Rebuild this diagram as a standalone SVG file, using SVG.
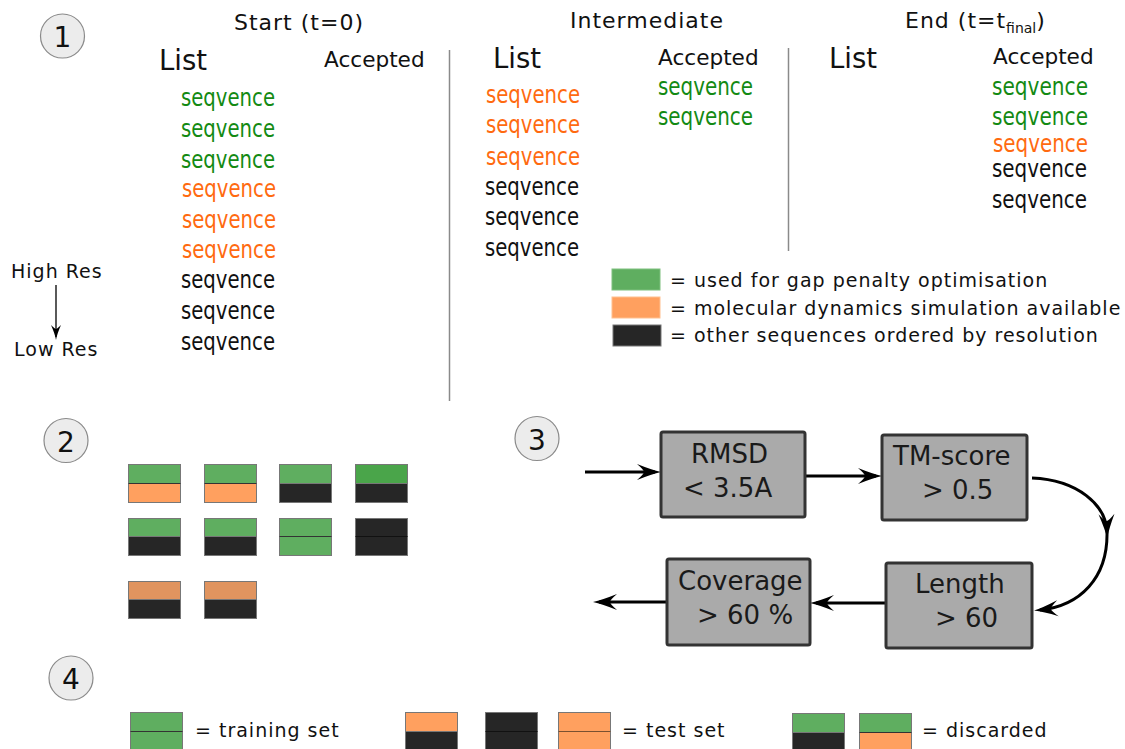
<svg xmlns="http://www.w3.org/2000/svg" width="1125" height="749" viewBox="0 0 1125 749">
<defs>
<style>
text{font-family:"DejaVu Sans","Liberation Sans",sans-serif;fill:#111}
.hdr{font-size:22px;letter-spacing:1px}
.lst{font-size:27.5px}
.acc{font-size:21.6px}
.seq{font-size:25px}
.g{fill:#138a13}.o{fill:#ff6a10}.k{fill:#111}
.sm{font-size:19px;letter-spacing:1px}
.num{font-size:28px;text-anchor:middle}
.circ{fill:#ececec;stroke:#8a8a8a;stroke-width:1.2}
.box{fill:#aaaaaa;stroke:#333;stroke-width:3}
.bt{font-size:26px;fill:#1a1a1a}
.div{stroke:#8a8a8a;stroke-width:1.5}
.tl rect{stroke:#777;stroke-width:1}
.tl line{stroke:#333;stroke-width:1.2}
.G{fill:#5fae60}.DG{fill:#4aa54a}.O{fill:#ffa05f}.O2{fill:#e0945f}.B{fill:#262626}
.conn{fill:none;stroke:#000;stroke-width:3}
</style>
<marker id="ah" markerUnits="userSpaceOnUse" markerWidth="40" markerHeight="24" viewBox="-30 -12 40 24" refX="-6" refY="0" orient="auto" overflow="visible">
<path d="M0,0 Q-9,-2 -24,-8 Q-17,-2 -17,0 Q-17,2 -24,8 Q-9,2 0,0Z" fill="#000"/>
</marker>
<marker id="ahs" markerUnits="userSpaceOnUse" markerWidth="24" markerHeight="14" viewBox="-18 -7 24 14" refX="-3" refY="0" orient="auto" overflow="visible">
<path d="M0,0 Q-6,-1 -15,-5 Q-11,-1 -11,0 Q-11,1 -15,5 Q-6,1 0,0Z" fill="#000"/>
</marker>
</defs>
<rect width="1125" height="749" fill="#fff"/>

<!-- Section 1 -->
<g id="badge1"><circle class="circ" cx="62.5" cy="36" r="22"/><text class="num" x="62.5" y="47">1</text></g>
<g id="headers">
<text class="hdr" x="234" y="30">Start (t=0)</text>
<text class="hdr" x="570" y="28">Intermediate</text>
<text class="hdr" x="905" y="28">End (t=t<tspan font-size="14" letter-spacing="0" dy="5">final</tspan><tspan dy="-5">)</tspan></text>
</g>
<line class="div" x1="449.5" y1="50" x2="449.5" y2="401"/>
<line class="div" x1="788.5" y1="48" x2="788.5" y2="251"/>

<g id="start">
<text class="lst" x="159" y="70">List</text>
<text class="acc" x="324" y="67">Accepted</text>
<text class="seq g" x="181" y="106" textLength="94" lengthAdjust="spacingAndGlyphs">seqvence</text>
<text class="seq g" x="181" y="137" textLength="94" lengthAdjust="spacingAndGlyphs">seqvence</text>
<text class="seq g" x="181" y="168" textLength="94" lengthAdjust="spacingAndGlyphs">seqvence</text>
<text class="seq o" x="182" y="197" textLength="94" lengthAdjust="spacingAndGlyphs">seqvence</text>
<text class="seq o" x="182" y="228" textLength="94" lengthAdjust="spacingAndGlyphs">seqvence</text>
<text class="seq o" x="182" y="258" textLength="94" lengthAdjust="spacingAndGlyphs">seqvence</text>
<text class="seq k" x="181" y="288" textLength="94" lengthAdjust="spacingAndGlyphs">seqvence</text>
<text class="seq k" x="181" y="319" textLength="94" lengthAdjust="spacingAndGlyphs">seqvence</text>
<text class="seq k" x="181" y="350" textLength="94" lengthAdjust="spacingAndGlyphs">seqvence</text>
</g>

<g id="intermediate">
<text class="lst" x="493" y="68">List</text>
<text class="acc" x="658" y="65">Accepted</text>
<text class="seq o" x="486" y="103" textLength="94" lengthAdjust="spacingAndGlyphs">seqvence</text>
<text class="seq o" x="486" y="133" textLength="94" lengthAdjust="spacingAndGlyphs">seqvence</text>
<text class="seq o" x="486" y="165" textLength="94" lengthAdjust="spacingAndGlyphs">seqvence</text>
<text class="seq k" x="485" y="195" textLength="94" lengthAdjust="spacingAndGlyphs">seqvence</text>
<text class="seq k" x="485" y="225" textLength="94" lengthAdjust="spacingAndGlyphs">seqvence</text>
<text class="seq k" x="485" y="256" textLength="94" lengthAdjust="spacingAndGlyphs">seqvence</text>
<text class="seq g" x="658" y="95" textLength="95" lengthAdjust="spacingAndGlyphs">seqvence</text>
<text class="seq g" x="658" y="125" textLength="95" lengthAdjust="spacingAndGlyphs">seqvence</text>
</g>

<g id="end">
<text class="lst" x="829" y="68">List</text>
<text class="acc" x="993" y="64">Accepted</text>
<text class="seq g" x="992" y="95" textLength="96" lengthAdjust="spacingAndGlyphs">seqvence</text>
<text class="seq g" x="992" y="125" textLength="96" lengthAdjust="spacingAndGlyphs">seqvence</text>
<text class="seq o" x="993" y="152" textLength="95" lengthAdjust="spacingAndGlyphs">seqvence</text>
<text class="seq k" x="992" y="177" textLength="95" lengthAdjust="spacingAndGlyphs">seqvence</text>
<text class="seq k" x="992" y="208" textLength="95" lengthAdjust="spacingAndGlyphs">seqvence</text>
</g>

<g id="resolution">
<text class="sm" x="11" y="278">High Res</text>
<text class="sm" x="14" y="356">Low Res</text>
<line x1="56" y1="285" x2="56" y2="337" stroke="#000" stroke-width="1.3" marker-end="url(#ahs)"/>
</g>

<g id="legend1">
<rect x="612" y="269" width="48" height="21" fill="#5fae60" stroke="#7fc07f" stroke-width="1"/>
<rect x="612" y="297" width="48" height="21" fill="#ffa05f" stroke="#ffc090" stroke-width="1"/>
<rect x="613" y="325" width="48" height="21" fill="#262626" stroke="#777" stroke-width="1"/>
<text class="sm" x="670" y="287">= used for gap penalty optimisation</text>
<text class="sm" x="670" y="315">= molecular dynamics simulation available</text>
<text class="sm" x="670" y="342">= other sequences ordered by resolution</text>
</g>

<!-- Section 2 -->
<g id="badge2"><circle class="circ" cx="66" cy="440.5" r="22"/><text class="num" x="66" y="452">2</text></g>
<g id="tiles2" class="tl">
<g id="t2-1"><rect class="G" x="128.5" y="464.5" width="52" height="19"/><rect class="O" x="128.5" y="483.5" width="52" height="19"/><line x1="128.5" y1="483.5" x2="180.5" y2="483.5"/></g>
<g id="t2-2"><rect class="G" x="204.5" y="464.5" width="52" height="19"/><rect class="O" x="204.5" y="483.5" width="52" height="19"/><line x1="204.5" y1="483.5" x2="256.5" y2="483.5"/></g>
<g id="t2-3"><rect class="G" x="279.5" y="464.5" width="52" height="19"/><rect class="B" x="279.5" y="483.5" width="52" height="19"/></g>
<g id="t2-4"><rect class="DG" x="355.5" y="464.5" width="52" height="19"/><rect class="B" x="355.5" y="483.5" width="52" height="19"/></g>
<g id="t2-5"><rect class="G" x="128.5" y="518.5" width="52" height="18"/><rect class="B" x="128.5" y="536.5" width="52" height="19"/></g>
<g id="t2-6"><rect class="G" x="204.5" y="518.5" width="52" height="18"/><rect class="B" x="204.5" y="536.5" width="52" height="19"/></g>
<g id="t2-7"><rect class="G" x="279.5" y="518.5" width="52" height="18"/><rect class="G" x="279.5" y="536.5" width="52" height="19"/><line x1="279.5" y1="536.5" x2="331.5" y2="536.5"/></g>
<g id="t2-8"><rect class="B" x="355.5" y="518.5" width="52" height="18"/><rect class="B" x="355.5" y="536.5" width="52" height="19"/><line x1="355.5" y1="536.5" x2="407.5" y2="536.5" style="stroke:#111"/></g>
<g id="t2-9"><rect class="O2" x="128.5" y="581.5" width="52" height="18"/><rect class="B" x="128.5" y="599.5" width="52" height="19"/></g>
<g id="t2-10"><rect class="O2" x="204.5" y="581.5" width="52" height="18"/><rect class="B" x="204.5" y="599.5" width="52" height="19"/></g>
</g>

<!-- Section 3 -->
<g id="badge3"><circle class="circ" cx="537" cy="438.5" r="22"/><text class="num" x="537" y="450">3</text></g>
<g id="connectors">
<line class="conn" x1="585" y1="472" x2="655" y2="472" marker-end="url(#ah)"/>
<line class="conn" x1="806" y1="476" x2="876" y2="476" marker-end="url(#ah)"/>
<path class="conn" d="M1032,478 C1078,480 1106,505 1107,532 C1108,578 1080,606 1040,610" marker-mid="url(#ah)" marker-end="url(#ah)"/>
<line class="conn" x1="886" y1="603" x2="816" y2="603" marker-end="url(#ah)"/>
<line class="conn" x1="667" y1="602" x2="599" y2="602" marker-end="url(#ah)"/>
</g>
<g id="rmsd"><rect class="box" x="661" y="432" width="144" height="85" rx="2"/><text class="bt" x="691" y="463">RMSD</text><text class="bt" x="683" y="497">&lt; 3.5A</text></g>
<g id="tmscore"><rect class="box" x="882" y="435" width="145" height="85" rx="2"/><text class="bt" x="893" y="465">TM-score</text><text class="bt" x="922" y="499">&gt; 0.5</text></g>
<g id="length"><rect class="box" x="886" y="563" width="146" height="85" rx="2"/><text class="bt" x="915" y="593">Length</text><text class="bt" x="935" y="627">&gt; 60</text></g>
<g id="coverage"><rect class="box" x="667" y="559" width="143" height="86" rx="2"/><text class="bt" x="678" y="590">Coverage</text><text class="bt" x="697" y="624">&gt; 60 %</text></g>

<!-- Section 4 -->
<g id="badge4"><circle class="circ" cx="71" cy="678" r="22"/><text class="num" x="71" y="689">4</text></g>
<g id="legend4" class="tl">
<g id="t4-1"><rect class="G" x="130.5" y="712.5" width="52" height="19"/><rect class="G" x="130.5" y="731.5" width="52" height="20"/><line x1="130.5" y1="731.5" x2="182.5" y2="731.5"/></g>
<text class="sm" x="195" y="737">= training set</text>
<g id="t4-2"><rect class="O" x="405.5" y="712.5" width="52" height="19"/><rect class="B" x="405.5" y="731.5" width="52" height="20"/></g>
<g id="t4-3"><rect class="B" x="485.5" y="712.5" width="52" height="19"/><rect class="B" x="485.5" y="731.5" width="52" height="20"/><line x1="485.5" y1="731.5" x2="537.5" y2="731.5" style="stroke:#111"/></g>
<g id="t4-4"><rect class="O" x="558.5" y="712.5" width="52" height="19"/><rect class="O" x="558.5" y="731.5" width="52" height="20"/><line x1="558.5" y1="731.5" x2="610.5" y2="731.5" style="stroke:#7a5030"/></g>
<text class="sm" x="622" y="737">= test set</text>
<g id="t4-5"><rect class="G" x="792.5" y="713.5" width="52" height="19"/><rect class="B" x="792.5" y="732.5" width="52" height="20"/></g>
<g id="t4-6"><rect class="G" x="859.5" y="713.5" width="52" height="19"/><rect class="O" x="859.5" y="732.5" width="52" height="20"/><line x1="859.5" y1="732.5" x2="911.5" y2="732.5"/></g>
<text class="sm" x="922" y="737">= discarded</text>
</g>
</svg>
